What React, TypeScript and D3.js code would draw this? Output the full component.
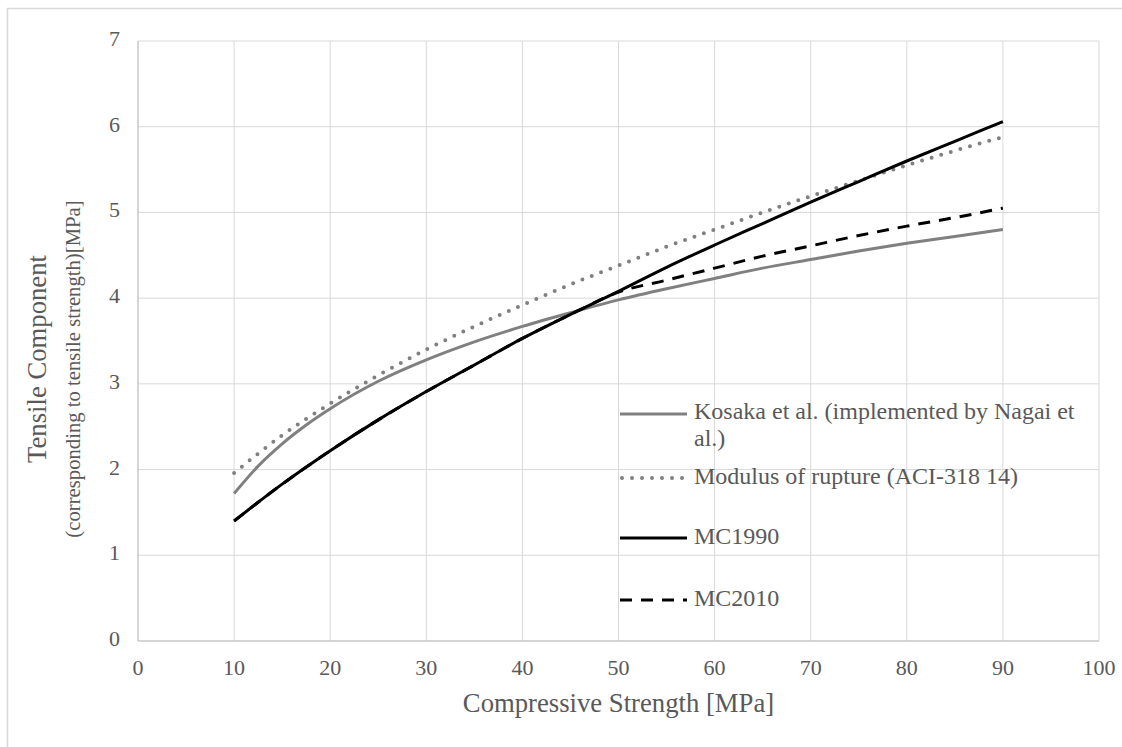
import React from "react";
import * as d3 from "d3";

const xTicks = [0, 10, 20, 30, 40, 50, 60, 70, 80, 90, 100];
const yTicks = [0, 1, 2, 3, 4, 5, 6, 7];

const kosakaX = [10, 12.5, 15, 17.5, 20, 25, 30, 35, 40, 45, 50, 55, 60, 65, 70, 75, 80, 85, 90];
const kosakaY = [1.72, 2.04, 2.3, 2.52, 2.71, 3.03, 3.28, 3.49, 3.67, 3.83, 3.98, 4.11, 4.23, 4.35, 4.45, 4.55, 4.64, 4.72, 4.8];

const fcX = [10, 15, 20, 25, 30, 35, 40, 45, 50, 55, 60, 65, 70, 75, 80, 85, 90];
const aciY = [1.96, 2.4, 2.77, 3.1, 3.4, 3.67, 3.92, 4.16, 4.38, 4.6, 4.8, 5.0, 5.19, 5.37, 5.55, 5.72, 5.88];
const mc1990Y = [1.4, 1.83, 2.22, 2.58, 2.91, 3.22, 3.53, 3.81, 4.08, 4.36, 4.62, 4.87, 5.12, 5.36, 5.6, 5.83, 6.06];
const mc2010Y = [1.4, 1.83, 2.22, 2.58, 2.91, 3.22, 3.53, 3.81, 4.07, 4.21, 4.35, 4.49, 4.61, 4.73, 4.84, 4.94, 5.05];

const seriesNames = [
  "Kosaka et al. (implemented by Nagai et",
  "Modulus of rupture (ACI-318 14)",
  "MC1990",
  "MC2010",
];

const TEXT = "#595959";
const FONT = "'Liberation Serif', 'Times New Roman', serif";

export default function App() {
  const x = d3.scaleLinear().domain([0, 100]).range([138, 1099]);
  const y = d3.scaleLinear().domain([0, 7]).range([641, 41]);
  const line = d3
    .line<[number, number]>()
    .x((d) => x(d[0]))
    .y((d) => y(d[1]))
    .curve(d3.curveMonotoneX);

  const kosaka = line(kosakaX.map((v, i) => [v, kosakaY[i]]) as [number, number][]) || "";
  const aci = line(fcX.map((v, i) => [v, aciY[i]]) as [number, number][]) || "";
  const mc1990 = line(fcX.map((v, i) => [v, mc1990Y[i]]) as [number, number][]) || "";
  const mc2010 = line(fcX.map((v, i) => [v, mc2010Y[i]]) as [number, number][]) || "";

  const legX1 = 620;
  const legX2 = 687;
  const legText = 694;
  const LFS = 24;

  return (
    <svg
      width={1122}
      height={747}
      style={{ position: "absolute", left: 0, top: 0, background: "#fff" }}
      fontFamily={FONT}
    >
      <rect x={7.5} y={8.5} width={1200} height={800} fill="#fff" stroke="#d9d9d9" strokeWidth={1.5} />
      {xTicks.map((t) => (
        <line key={"gx" + t} x1={x(t)} x2={x(t)} y1={y(0)} y2={y(7)} stroke="#d9d9d9" strokeWidth={1} />
      ))}
      {yTicks.map((t) => (
        <line key={"gy" + t} x1={x(0)} x2={x(100)} y1={y(t)} y2={y(t)} stroke="#d9d9d9" strokeWidth={1} />
      ))}
      <line x1={x(0)} x2={x(0)} y1={y(0)} y2={y(7)} stroke="#bfbfbf" strokeWidth={1} />
      <line x1={x(0)} x2={x(100)} y1={y(0)} y2={y(0)} stroke="#bfbfbf" strokeWidth={1} />

      {xTicks.map((t) => (
        <text key={"tx" + t} x={x(t)} y={y(0) + 29} fontSize={22} fill={TEXT} textAnchor="middle" dominantBaseline="middle">
          {t}
        </text>
      ))}
      {yTicks.map((t) => (
        <text key={"ty" + t} x={120} y={y(t)} fontSize={22} fill={TEXT} textAnchor="end" dominantBaseline="middle">
          {t}
        </text>
      ))}

      <text x={x(50)} y={706} fontSize={26.7} fill={TEXT} textAnchor="middle" dominantBaseline="middle">
        Compressive Strength [MPa]
      </text>
      <g transform="translate(40,359) rotate(-90)">
        <text x={0} y={0} fontSize={26.7} fill={TEXT} textAnchor="middle" dominantBaseline="middle">
          Tensile Component
        </text>
      </g>
      <g transform="translate(75,369) rotate(-90)">
        <text x={0} y={0} fontSize={20.7} fill={TEXT} textAnchor="middle" dominantBaseline="middle">
          (corresponding to tensile strength)[MPa]
        </text>
      </g>

      <path d={kosaka} fill="none" stroke="#808080" strokeWidth={3} />
      <path d={aci} fill="none" stroke="#808080" strokeWidth={4} strokeDasharray="0 10" strokeLinecap="round" />
      <path d={mc1990} fill="none" stroke="#000" strokeWidth={3} />
      <path d={mc2010} fill="none" stroke="#000" strokeWidth={3} strokeDasharray="12 9" />

      <line x1={legX1} x2={legX2} y1={414} y2={414} stroke="#808080" strokeWidth={3} />
      <text x={legText} y={413} fontSize={LFS} fill={TEXT} dominantBaseline="middle">{seriesNames[0]}</text>
      <text x={legText} y={440} fontSize={LFS} fill={TEXT} dominantBaseline="middle">al.)</text>
      <line x1={legX1 + 2} x2={legX2} y1={478} y2={478} stroke="#808080" strokeWidth={4} strokeDasharray="0 10" strokeLinecap="round" />
      <text x={legText} y={478} fontSize={LFS} fill={TEXT} dominantBaseline="middle">{seriesNames[1]}</text>
      <line x1={legX1} x2={legX2} y1={538} y2={538} stroke="#000" strokeWidth={3} />
      <text x={legText} y={538} fontSize={LFS} fill={TEXT} dominantBaseline="middle">{seriesNames[2]}</text>
      <line x1={legX1} x2={legX2} y1={600} y2={600} stroke="#000" strokeWidth={3} strokeDasharray="12 9" />
      <text x={legText} y={600} fontSize={LFS} fill={TEXT} dominantBaseline="middle">{seriesNames[3]}</text>
    </svg>
  );
}
